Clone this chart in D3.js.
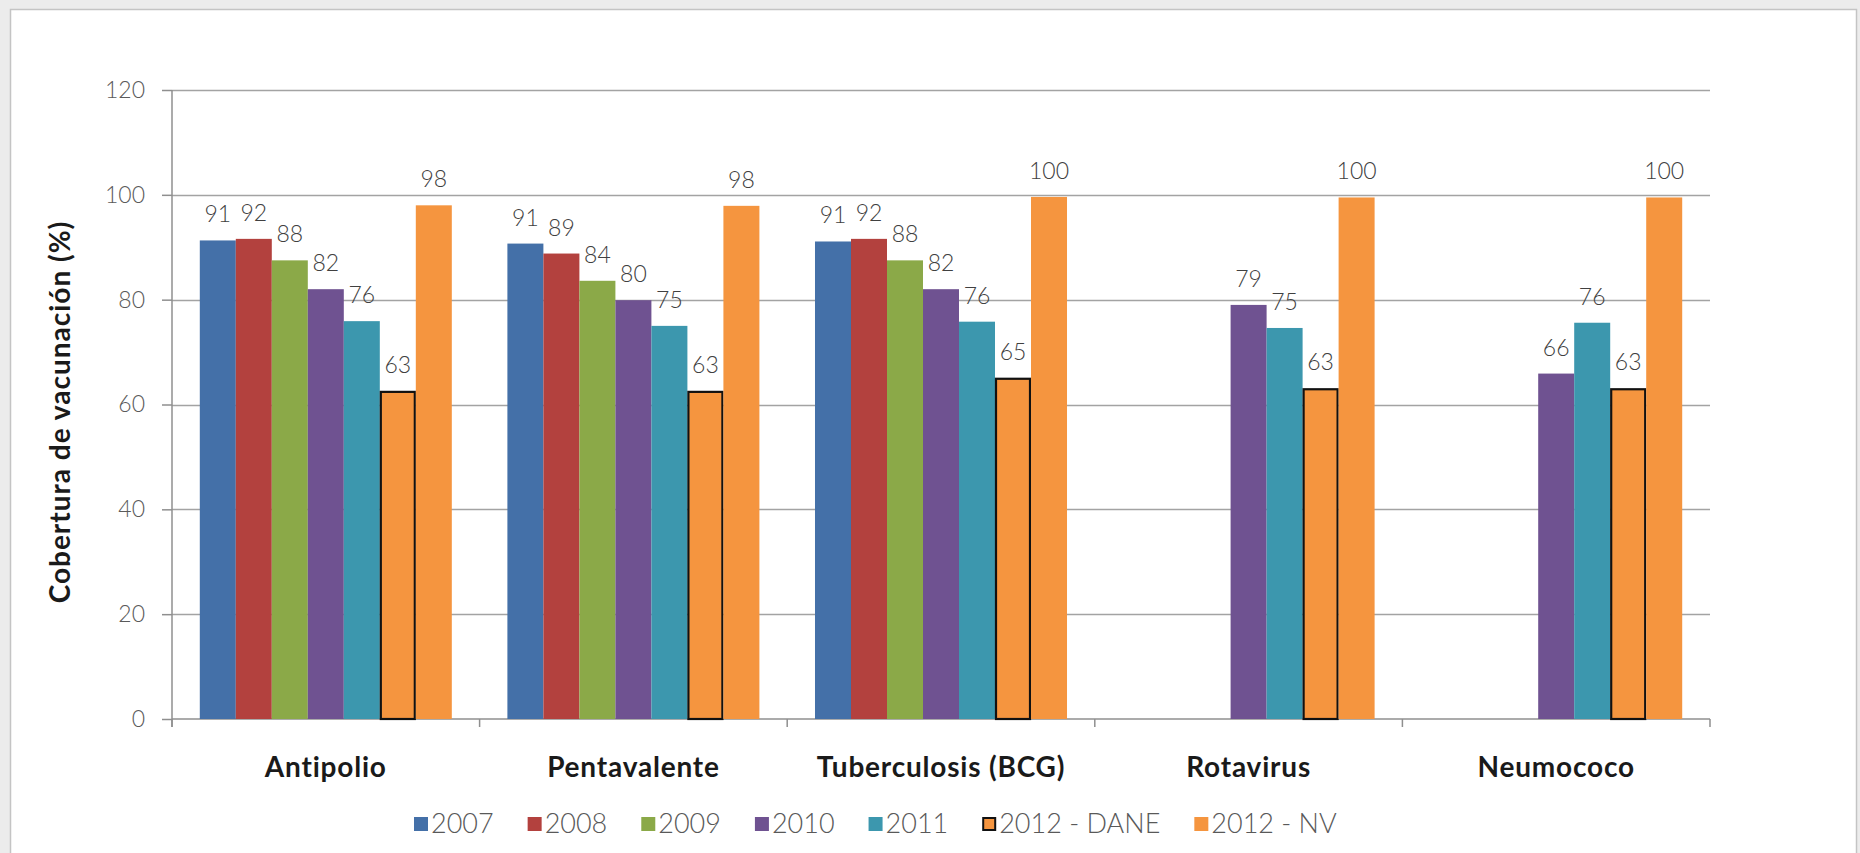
<!DOCTYPE html>
<html><head><meta charset="utf-8">
<script src="https://cdn.jsdelivr.net/npm/d3@7"></script>
<style>html,body{margin:0;padding:0;background:#ececec;} svg{display:block;}</style>
</head><body>
<svg id="chart" width="1860" height="853"></svg>
<script>
const categories = ["Antipolio", "Pentavalente", "Tuberculosis (BCG)", "Rotavirus", "Neumococo"];
const seriesNames = ["2007", "2008", "2009", "2010", "2011", "2012 - DANE", "2012 - NV"];
const seriesColors = ["#4470A8", "#B3413E", "#8BA948", "#6F5291", "#3C97AE", "#F5953F", "#F5953F"];
const v2007 = [91.3, 90.7, 91.1, null, null];
const v2008 = [91.6, 88.8, 91.6, null, null];
const v2009 = [87.5, 83.6, 87.5, null, null];
const v2010 = [82.0, 79.9, 82.0, 79.0, 65.9];
const v2011 = [75.9, 75.0, 75.8, 74.6, 75.6];
const v2012dane = [62.6, 62.6, 65.1, 63.1, 63.1];
const v2012nv = [98.0, 97.9, 99.6, 99.5, 99.5];
const yTicks = [0, 20, 40, 60, 80, 100, 120];
const yTitle = "Cobertura de vacunación (%)";

const seriesValues = [v2007, v2008, v2009, v2010, v2011, v2012dane, v2012nv];
const outlined = [false, false, false, false, false, true, false];

const svg = d3.select("#chart");
const FONT = "Lato, 'Open Sans', sans-serif";

// chart area frame
svg.append("rect").attr("x", 10.5).attr("y", 9.5).attr("width", 1846).attr("height", 900)
  .attr("fill", "#ffffff").attr("stroke", "#c4c4c4").attr("stroke-width", 1.5);

const pLeft = 172, pRight = 1710, pTop = 90, pBottom = 719;
const y = d3.scaleLinear().domain([0, 120]).range([pBottom, pTop]);
const x0 = d3.scaleBand().domain(categories).range([pLeft, pRight]).paddingInner(0).paddingOuter(0);
const x1 = d3.scaleBand().domain(seriesNames).range([0, x0.bandwidth()]).paddingInner(0).paddingOuter(0.772);

// gridlines
svg.append("g").selectAll("line").data(yTicks.filter(d => d > 0)).join("line")
  .attr("x1", pLeft).attr("x2", pRight)
  .attr("y1", d => Math.round(y(d)) + 0.5).attr("y2", d => Math.round(y(d)) + 0.5)
  .attr("stroke", "#a3a3a3").attr("stroke-width", 1.5);

// y axis
const yAxis = d3.axisLeft(y).tickValues(yTicks).tickSize(10).tickPadding(17).tickFormat(d3.format("d"));
const gy = svg.append("g").attr("transform", `translate(${pLeft},0)`).call(yAxis);
gy.select(".domain").attr("stroke", "#8f8f8f").attr("stroke-width", 1.5).attr("d", `M0,${pBottom + 8}V${pTop}`);
gy.selectAll(".tick line").attr("stroke", "#8f8f8f").attr("stroke-width", 1.5);
gy.selectAll(".tick text").attr("fill", "#5a5a5a").style("font-family", FONT).style("font-size", "23px").style("font-weight", 300);

// x axis
const xAxis = d3.axisBottom(x0).tickSize(0).tickPadding(0);
const gx = svg.append("g").attr("transform", `translate(0,${pBottom})`).call(xAxis);
gx.select(".domain").attr("stroke", "#8f8f8f").attr("stroke-width", 1.5).attr("d", `M${pLeft},0H${pRight}`);
gx.selectAll(".tick text").attr("fill", "#1a1a1a").attr("y", 58).attr("dy", 0)
  .style("font-family", FONT).style("font-size", "28px").style("font-weight", "bold")
  .style("letter-spacing", "0.8px");
// category separators
const seps = categories.map(c => x0(c)).concat([pRight]);
svg.append("g").selectAll("line").data(seps).join("line")
  .attr("x1", d => d).attr("x2", d => d).attr("y1", pBottom).attr("y2", pBottom + 8)
  .attr("stroke", "#8f8f8f").attr("stroke-width", 1.5);

// bars
const barData = [];
seriesNames.forEach((s, si) => {
  categories.forEach((c, ci) => {
    const v = seriesValues[si][ci];
    if (v !== null) barData.push({ s, si, c, v });
  });
});
svg.append("g").selectAll("rect").data(barData).join("rect")
  .attr("x", d => x0(d.c) + x1(d.s) + (outlined[d.si] ? 1 : 0))
  .attr("y", d => y(d.v) + (outlined[d.si] ? 1 : 0))
  .attr("width", d => x1.bandwidth() - (outlined[d.si] ? 2 : 0))
  .attr("height", d => y(0) - y(d.v) - (outlined[d.si] ? 1 : 0))
  .attr("fill", d => seriesColors[d.si])
  .attr("stroke", d => outlined[d.si] ? "#111" : "none")
  .attr("stroke-width", 2.2);

// data labels
svg.append("g").selectAll("text").data(barData).join("text")
  .attr("x", d => x0(d.c) + x1(d.s) + x1.bandwidth() / 2)
  .attr("y", d => y(d.v) - 18)
  .attr("text-anchor", "middle").attr("fill", "#404040")
  .style("font-family", FONT).style("font-size", "23px").style("font-weight", 300)
  .text(d => Math.round(d.v));

// y title
svg.append("text").attr("transform", `translate(70,412) rotate(-90)`)
  .attr("text-anchor", "middle").attr("fill", "#1a1a1a")
  .style("font-family", FONT).style("font-size", "28px").style("font-weight", "bold")
  .style("letter-spacing", "1px")
  .text(yTitle);

// legend
const lg = svg.append("g");
let cx = 414;
seriesNames.forEach((s, i) => {
  const it = lg.append("g").attr("transform", `translate(${cx},0)`);
  it.append("rect").attr("x", outlined[i] ? 1 : 0).attr("y", outlined[i] ? 818 : 817)
    .attr("width", outlined[i] ? 12 : 14).attr("height", outlined[i] ? 12 : 14)
    .attr("fill", seriesColors[i]).attr("stroke", outlined[i] ? "#111" : "none").attr("stroke-width", 2);
  const t = it.append("text").attr("x", 17).attr("y", 833).attr("fill", "#595959")
    .style("font-family", FONT).style("font-size", "27px").style("font-weight", 300).text(s);
  cx += 17 + t.node().getComputedTextLength() + 34;
});
</script>
</body></html>
